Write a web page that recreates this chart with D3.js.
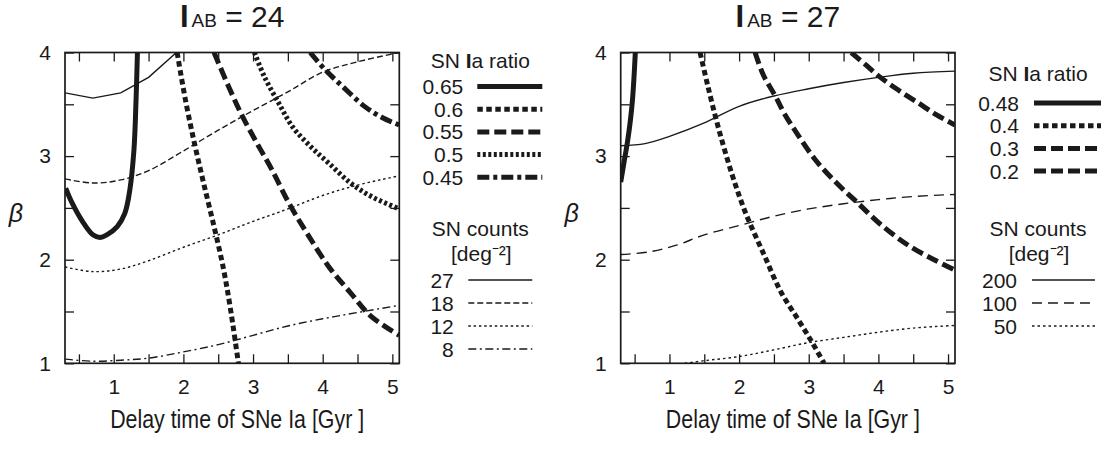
<!DOCTYPE html>
<html>
<head>
<meta charset="utf-8">
<script src="https://cdn.jsdelivr.net/npm/d3@7"></script>
<style>
  body { margin: 0; background: #fff; }
</style>
</head>
<body>
<div id="chart"></div>
<script>
// tick values shared by both panels
const delayTicks = [0.5, 1, 1.5, 2, 2.5, 3, 3.5, 4, 4.5, 5];
const betaTicks = [1, 1.5, 2, 2.5, 3, 3.5, 4];

// ---- I_AB = 24 ----
const ratioLabels24 = ["0.65", "0.6", "0.55", "0.5", "0.45"];
const ratio24_065 = [[0.31,2.69],[0.4,2.55],[0.55,2.37],[0.7,2.24],[0.8,2.215],[0.9,2.24],[1.05,2.32],[1.16,2.45],[1.23,2.67],[1.29,3.06],[1.32,3.54],[1.34,4.0]];
const ratio24_060 = [[1.91,4.0],[2.03,3.54],[2.16,3.12],[2.29,2.74],[2.44,2.32],[2.57,1.93],[2.67,1.55],[2.79,1.0]];
const ratio24_055 = [[2.44,4.0],[2.65,3.67],[2.85,3.38],[3.06,3.12],[3.27,2.87],[3.52,2.54],[3.78,2.25],[4.09,1.93],[4.4,1.68],[4.7,1.45],[5.1,1.27]];
const ratio24_050 = [[3.02,4.0],[3.16,3.77],[3.37,3.51],[3.57,3.28],[3.83,3.09],[4.09,2.93],[4.4,2.74],[4.7,2.61],[5.1,2.49]];
const ratio24_045 = [[3.82,4.0],[4.04,3.83],[4.29,3.67],[4.6,3.48],[4.86,3.37],[5.1,3.3]];

const countLabels24 = ["27", "18", "12", "8"];
const count24_27 = [[0.3,3.61],[0.7,3.56],[1.1,3.61],[1.5,3.76],[1.9,4.0]];
const count24_18 = [[0.3,2.78],[0.7,2.74],[1.1,2.77],[1.5,2.86],[2.0,3.05],[2.5,3.25],[3.0,3.44],[3.5,3.62],[4.0,3.81],[4.5,3.91],[5.1,4.0]];
const count24_12 = [[0.3,1.93],[0.7,1.885],[1.1,1.91],[1.5,1.99],[2.0,2.12],[2.5,2.24],[3.0,2.37],[3.5,2.49],[4.0,2.62],[4.5,2.72],[5.1,2.81]];
const count24_8 = [[0.3,1.04],[0.7,1.02],[1.1,1.03],[1.5,1.05],[2.0,1.11],[2.5,1.18],[3.0,1.27],[3.5,1.36],[4.0,1.43],[4.5,1.49],[5.1,1.56]];

// ---- I_AB = 27 ----
const ratioLabels27 = ["0.48", "0.4", "0.3", "0.2"];
const ratio27_048 = [[0.3,2.75],[0.35,2.95],[0.4,3.15],[0.44,3.35],[0.47,3.55],[0.49,3.75],[0.51,4.0]];
const ratio27_040 = [[1.44,4.0],[1.55,3.68],[1.7,3.28],[1.9,2.82],[2.1,2.44],[2.35,2.06],[2.6,1.69],[2.85,1.42],[3.05,1.2],[3.22,1.0]];
const ratio27_030 = [[2.23,4.0],[2.35,3.78],[2.52,3.58],[2.65,3.41],[2.83,3.22],[3.1,2.96],[3.4,2.74],[3.7,2.55],[4.05,2.33],[4.45,2.13],[4.8,2.0],[5.1,1.9]];
const ratio27_020 = [[3.61,4.0],[3.82,3.88],[4.02,3.765],[4.28,3.64],[4.58,3.51],[4.83,3.4],[5.1,3.3]];

const countLabels27 = ["200", "100", "50"];
const count27_200 = [[0.3,3.1],[0.65,3.12],[1.0,3.19],[1.5,3.32],[2.0,3.48],[2.5,3.58],[3.0,3.65],[3.5,3.71],[4.0,3.76],[4.5,3.8],[5.1,3.82]];
const count27_100 = [[0.3,2.05],[0.7,2.075],[1.1,2.14],[1.5,2.24],[2.0,2.33],[2.5,2.42],[3.0,2.49],[3.5,2.54],[4.0,2.58],[4.5,2.61],[5.1,2.63]];
const count27_50 = [[1.22,1.0],[1.5,1.025],[2.0,1.065],[2.5,1.13],[3.0,1.2],[3.5,1.25],[4.0,1.3],[4.5,1.34],[5.1,1.365]];

const width = 1101;
const height = 449;
const plotTop = 52.5, plotBottom = 363.3;
const ink = "#1a1a1a";
const keyFont = "21px";

const svg = d3.select("#chart").append("svg")
  .attr("width", width).attr("height", height)
  .style("font-family", "'Liberation Sans', Arial, Helvetica, sans-serif");

const y = d3.scaleLinear().domain([1, 4]).range([plotBottom, plotTop]);

function drawPanel(o) {
  const x = d3.scaleLinear().domain([0.3, 5.1]).range([o.left, o.right]);
  const g = svg.append("g");
  const cx = (o.left + o.right) / 2;

  g.append("clipPath").attr("id", "clip" + o.id)
    .append("rect")
    .attr("x", o.left).attr("y", plotTop)
    .attr("width", o.right - o.left).attr("height", plotBottom - plotTop);

  const smooth = d3.line().x(d => x(d[0])).y(d => y(d[1])).curve(d3.curveCatmullRom.alpha(0.5));
  const straight = d3.line().x(d => x(d[0])).y(d => y(d[1]));

  const curves = g.append("g").attr("clip-path", `url(#clip${o.id})`);

  // thin count contours
  o.counts.forEach((c, i) => {
    curves.append("path")
      .attr("d", (o.straightFirst && i == 0 ? straight : smooth)(c))
      .attr("fill", "none").attr("stroke", ink).attr("stroke-width", 1.4)
      .attr("stroke-dasharray", o.countDash[i]);
  });
  // thick ratio contours
  o.ratios.forEach((c, i) => {
    curves.append("path")
      .attr("d", smooth(c))
      .attr("fill", "none").attr("stroke", ink).attr("stroke-width", 5)
      .attr("stroke-dasharray", o.ratioDash[i]);
  });

  // axes, ticks pointing inward on all four sides
  const intLabel = d => Number.isInteger(d) ? d : "";
  const styleAxis = a => {
    a.select(".domain").remove();
    a.selectAll(".tick line").attr("stroke", ink).attr("stroke-width", 1.3);
    a.selectAll(".tick text").attr("fill", ink).style("font-size", "21px").style("font-family", "inherit");
  };
  g.append("g").attr("transform", `translate(0,${plotBottom})`)
    .call(d3.axisBottom(x).tickValues(delayTicks).tickSize(-9).tickPadding(16).tickFormat(intLabel))
    .call(styleAxis);
  g.append("g").attr("transform", `translate(0,${plotTop})`)
    .call(d3.axisTop(x).tickValues(delayTicks).tickSize(-9).tickFormat(""))
    .call(styleAxis);
  g.append("g").attr("transform", `translate(${o.left},0)`)
    .call(d3.axisLeft(y).tickValues(betaTicks).tickSize(-9).tickPadding(14).tickFormat(intLabel))
    .call(styleAxis);
  g.append("g").attr("transform", `translate(${o.right},0)`)
    .call(d3.axisRight(y).tickValues(betaTicks).tickSize(-9).tickFormat(""))
    .call(styleAxis);

  g.append("rect")
    .attr("x", o.left).attr("y", plotTop)
    .attr("width", o.right - o.left).attr("height", plotBottom - plotTop)
    .attr("fill", "none").attr("stroke", ink).attr("stroke-width", 1.7);

  // title
  const t = g.append("text").attr("x", cx).attr("y", 27).attr("text-anchor", "middle").attr("fill", ink);
  t.append("tspan").text("I").style("font-size", "31px").style("font-weight", "bold");
  t.append("tspan").text("AB").attr("dx", 3).style("font-size", "19px");
  t.append("tspan").text(" = " + o.title).style("font-size", "30px");

  // x axis title
  g.append("text").attr("x", cx + 5).attr("y", 428).attr("text-anchor", "middle")
    .attr("fill", ink).style("font-size", "25px")
    .attr("textLength", 254).attr("lengthAdjust", "spacingAndGlyphs")
    .text("Delay time of SNe Ia [Gyr ]");

  // beta
  g.append("text").attr("x", o.left - 49).attr("y", 213).attr("dy", "0.35em")
    .attr("text-anchor", "middle").attr("fill", ink)
    .style("font-size", "25px").style("font-style", "italic").text("β");

  // ratio key
  const r0 = o.right;
  const rk = g.append("text").attr("x", r0 + o.keyTitleDx).attr("y", o.ratioTitleY).attr("dy", "0.36em")
    .attr("text-anchor", "middle").attr("fill", ink).style("font-size", keyFont);
  rk.append("tspan").text("SN ");
  rk.append("tspan").text("I").style("font-weight", "bold");
  rk.append("tspan").text("a ratio");
  o.ratioLabels.forEach((lab, i) => {
    const ry = o.ratioRowY + i * o.ratioRowStep;
    g.append("text").attr("x", r0 + o.ratioNumDx).attr("y", ry).attr("dy", "0.36em")
      .attr("text-anchor", "end").attr("fill", ink).style("font-size", keyFont).text(lab);
    g.append("line")
      .attr("x1", r0 + o.ratioLineDx[0]).attr("x2", r0 + o.ratioLineDx[1])
      .attr("y1", ry).attr("y2", ry)
      .attr("stroke", ink).attr("stroke-width", 5).attr("stroke-dasharray", o.ratioDash[i]);
  });

  // counts key
  g.append("text").attr("x", r0 + o.keyTitleDx).attr("y", 228).attr("dy", "0.36em")
    .attr("text-anchor", "middle").attr("fill", ink).style("font-size", keyFont).text("SN counts");
  g.append("text").attr("x", r0 + o.keyTitleDx + 1).attr("y", 253).attr("dy", "0.36em")
    .attr("text-anchor", "middle").attr("fill", ink).style("font-size", keyFont).text("[deg⁻²]");
  o.countLabels.forEach((lab, i) => {
    const ry = 280 + i * 23;
    g.append("text").attr("x", r0 + o.countNumDx).attr("y", ry).attr("dy", "0.36em")
      .attr("text-anchor", "end").attr("fill", ink).style("font-size", keyFont).text(lab);
    g.append("line")
      .attr("x1", r0 + o.countLineDx[0]).attr("x2", r0 + o.countLineDx[1])
      .attr("y1", ry).attr("y2", ry)
      .attr("stroke", ink).attr("stroke-width", 1.4).attr("stroke-dasharray", o.countDash[i]);
  });
}

drawPanel({
  id: 0, left: 65, right: 399.3, title: "24",
  ratios: [ratio24_065, ratio24_060, ratio24_055, ratio24_050, ratio24_045],
  ratioLabels: ratioLabels24,
  ratioDash: [null, "5.5,3.5", "12,5", "3,2.5", "12,4,4,4"],
  counts: [count24_27, count24_18, count24_12, count24_8],
  countLabels: countLabels24,
  countDash: [null, "6,3", "2.5,2.8", "8,3.5,2,3.5"],
  straightFirst: true,
  keyTitleDx: 81, ratioTitleY: 60, ratioRowY: 86.5, ratioRowStep: 22.7,
  ratioNumDx: 64, ratioLineDx: [78, 143],
  countNumDx: 54.5, countLineDx: [69, 133]
});

drawPanel({
  id: 1, left: 620.7, right: 955, title: "27",
  ratios: [ratio27_048, ratio27_040, ratio27_030, ratio27_020],
  ratioLabels: ratioLabels27,
  ratioDash: [null, "5.5,3.5", "12,5", "12,5"],
  counts: [count27_200, count27_100, count27_50],
  countLabels: countLabels27,
  countDash: [null, "10,6", "2.5,3"],
  straightFirst: false,
  keyTitleDx: 83, ratioTitleY: 73, ratioRowY: 103, ratioRowStep: 22.7,
  ratioNumDx: 64, ratioLineDx: [79, 146],
  countNumDx: 62, countLineDx: [77, 140]
});
</script>
</body>
</html>
